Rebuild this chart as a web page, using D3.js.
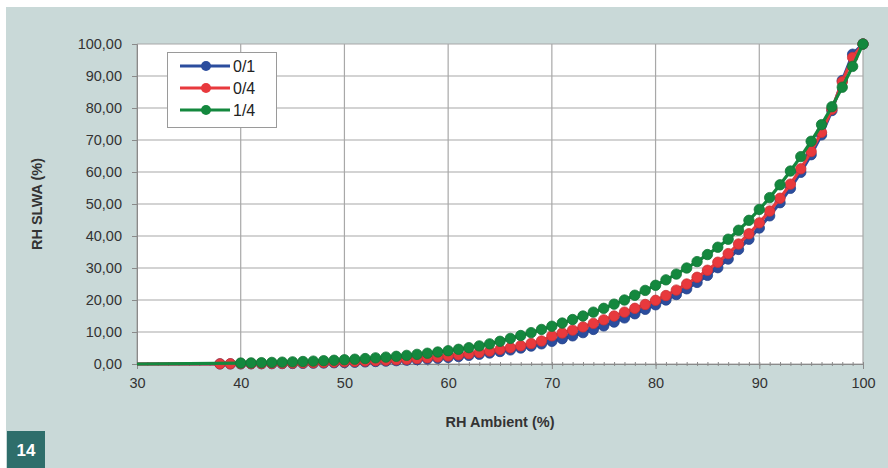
<!DOCTYPE html>
<html><head><meta charset="utf-8">
<script src="https://cdn.jsdelivr.net/npm/d3@7/dist/d3.min.js"></script>
<style>body{margin:0;background:#fff}svg{display:block}text{font-family:"Liberation Sans",Arial,sans-serif}</style>
</head><body><svg id="c" width="888" height="468"></svg>
<script>
const rhAmbient = [30,38,39,40,41,42,43,44,45,46,47,48,49,50,51,52,53,54,55,56,57,58,59,60,61,62,63,64,65,66,67,68,69,70,71,72,73,74,75,76,77,78,79,80,81,82,83,84,85,86,87,88,89,90,91,92,93,94,95,96,97,98,99,100];
const s01 = [0,0.03,0.04,0.05,0.07,0.09,0.11,0.14,0.17,0.21,0.26,0.32,0.39,0.47,0.56,0.66,0.78,0.91,1.05,1.2,1.38,1.58,1.8,2.05,2.35,2.7,3.05,3.45,3.9,4.4,5.0,5.6,6.3,7.1,7.9,8.8,9.8,10.8,11.9,13.1,14.4,15.7,17.1,18.5,20.0,21.7,23.5,25.5,27.7,30.1,32.8,35.8,39.0,42.5,46.3,50.4,54.9,59.9,65.4,71.6,79.2,88.6,96.8,100];
const s04 = [0,0.05,0.07,0.1,0.12,0.15,0.18,0.22,0.27,0.33,0.4,0.48,0.57,0.67,0.78,0.9,1.03,1.17,1.32,1.5,1.7,1.95,2.2,2.5,2.85,3.2,3.6,4.05,4.55,5.1,5.7,6.4,7.2,8.8,9.7,10.6,11.6,12.7,13.8,15.0,16.2,17.4,18.6,19.9,21.4,23.1,25.0,27.1,29.3,31.8,34.5,37.5,40.7,44.1,47.8,51.8,56.2,61.0,66.4,72.4,79.6,88.2,95.8,100];
const s14 = [0,null,null,0.3,0.35,0.42,0.5,0.58,0.67,0.78,0.9,1.03,1.17,1.33,1.5,1.7,1.92,2.15,2.4,2.7,3.02,3.37,3.75,4.15,4.6,5.1,5.65,6.3,7.1,8.0,8.9,9.8,10.8,11.8,12.8,13.9,15.0,16.2,17.4,18.7,20.0,21.5,23.0,24.6,26.3,28.1,30.0,32.0,34.2,36.5,39.0,41.8,44.9,48.3,52.0,56.0,60.3,64.8,69.6,74.8,80.4,86.5,93.0,100];
const seriesNames = ["0/1","0/4","1/4"];
const seriesColors = ["#2b4d9e","#e8393d","#14883e"];
const xTicks = [30,40,50,60,70,80,90,100];
const yTicks = [0,10,20,30,40,50,60,70,80,90,100];
const yTickLabels = ["0,00","10,00","20,00","30,00","40,00","50,00","60,00","70,00","80,00","90,00","100,00"];
const xTitle = "RH Ambient (%)";
const yTitle = "RH SLWA (%)";
const figLabel = "14";

const svg = d3.select("#c");
const L=137,R=863,T=44,B=364;
svg.append("rect").attr("x",6).attr("y",7).attr("width",882).attr("height",461).attr("fill","#c9d9d8");
svg.append("rect").attr("x",L).attr("y",T).attr("width",R-L).attr("height",B-T).attr("fill","#fff");
const x=d3.scaleLinear().domain([30,100]).range([L,R]);
const y=d3.scaleLinear().domain([0,100]).range([B,T]);
const g=svg.append("g");
g.selectAll(".hg").data(yTicks).join("line").attr("x1",L).attr("x2",R).attr("y1",d=>y(d)).attr("y2",d=>y(d)).attr("stroke","#a8a8a8").attr("stroke-width",1.2);
g.selectAll(".vg").data(xTicks).join("line").attr("y1",T).attr("y2",B).attr("x1",d=>x(d)).attr("x2",d=>x(d)).attr("stroke","#a8a8a8").attr("stroke-width",1.2);
const ya=svg.append("g").attr("transform",`translate(${L},0)`).call(d3.axisLeft(y).tickValues(yTicks).tickFormat((d,i)=>yTickLabels[i]).tickSize(5).tickPadding(10));
const xa=svg.append("g").attr("transform",`translate(0,${B})`).call(d3.axisBottom(x).tickValues(xTicks).tickSize(5).tickPadding(9));
const xm=svg.append("g").attr("transform",`translate(0,${B-2})`).call(d3.axisBottom(x).ticks(70).tickSize(4).tickFormat(""));
xm.select(".domain").remove();
[ya,xa,xm].forEach(a=>{a.selectAll("line").attr("stroke","#8a8a8a");a.select(".domain").attr("stroke","#8a8a8a");a.selectAll("text").attr("fill","#333").attr("font-size",14.5);});
const all=[s01,s04,s14];
all.forEach((vals,si)=>{
  const pts=rhAmbient.map((r,i)=>({x:r,y:vals[i],i})).filter(p=>p.y!==null);
  const line=d3.line().x(p=>x(p.x)).y(p=>y(p.y));
  svg.append("path").datum(pts).attr("d",line).attr("fill","none").attr("stroke",seriesColors[si]).attr("stroke-width",3.2);
  svg.append("g").selectAll("circle").data(pts.filter(p=>p.i>0)).join("circle")
    .attr("cx",p=>x(p.x)).attr("cy",p=>y(p.y)).attr("r",5.2)
    .attr("fill",seriesColors[si]).attr("stroke",d3.color(seriesColors[si]).darker(0.4)).attr("stroke-width",0.8);
});
const lg=svg.append("g");
lg.append("rect").attr("x",167.5).attr("y",52.5).attr("width",109).attr("height",75).attr("fill","#fff").attr("stroke","#9a9a9a");
seriesNames.forEach((n,i)=>{
  const yy=66+i*22;
  lg.append("line").attr("x1",180).attr("x2",230).attr("y1",yy).attr("y2",yy).attr("stroke",seriesColors[i]).attr("stroke-width",3.2);
  lg.append("circle").attr("cx",206).attr("cy",yy).attr("r",5).attr("fill",seriesColors[i]);
  lg.append("text").attr("x",233).attr("y",yy+5.5).attr("font-size",16).attr("fill","#222").text(n);
});
svg.append("text").attr("x",500).attr("y",427).attr("text-anchor","middle").attr("font-weight","bold").attr("font-size",14.5).attr("fill","#333").text(xTitle);
svg.append("text").attr("transform","translate(42,204) rotate(-90)").attr("text-anchor","middle").attr("font-weight","bold").attr("font-size",14.5).attr("fill","#333").text(yTitle);
svg.append("rect").attr("x",7).attr("y",431).attr("width",38).attr("height",37).attr("fill","#2e6e6b");
svg.append("text").attr("x",26).attr("y",456).attr("text-anchor","middle").attr("font-weight","bold").attr("font-size",17).attr("fill","#fff").text(figLabel);
</script></body></html>
